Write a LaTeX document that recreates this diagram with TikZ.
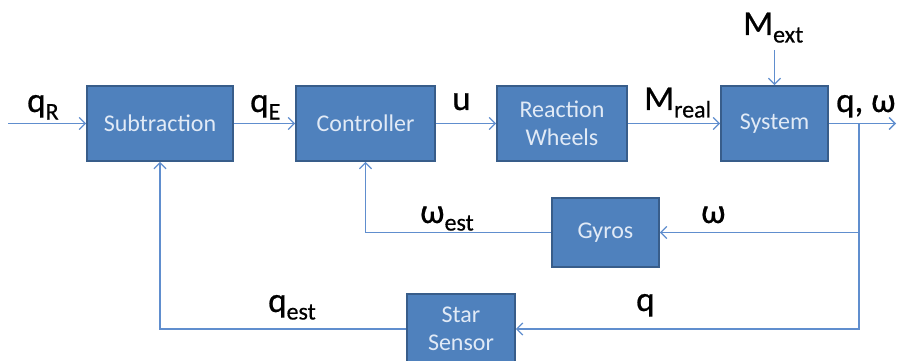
\documentclass[tikz,border=0pt]{standalone}
\usepackage{fontspec}
\setmainfont{Carlito}
\newfontfamily\labfont{Carlito}[FakeBold=0.6]
\usetikzlibrary{arrows.meta}
\definecolor{boxfill}{RGB}{79,129,189}
\definecolor{boxedge}{RGB}{56,93,138}
\definecolor{boxtext}{RGB}{225,234,246}
\definecolor{wire}{RGB}{96,142,206}
\newcommand{\lbl}[2]{{\fontsize{35}{35}\selectfont #1}{\fontsize{24}{24}\selectfont\raisebox{-7.5pt}{#2}}}
\newcommand{\biglbl}[1]{{\fontsize{35}{35}\selectfont #1}}
\tikzset{
  blockbox/.style={draw=boxedge, fill=boxfill, line width=1.8pt, text=boxtext,
    font=\fontsize{24}{28}\selectfont, align=center, inner sep=0pt, minimum height=75pt},
  wirearrow/.style={draw=wire, line width=1.3pt, -{Straight Barb[length=6pt,width=12pt,line width=1.3pt]}},
  lab/.style={anchor=base west, inner sep=0pt, text=black, font=\labfont}
}
\begin{document}
\begin{tikzpicture}[x=1pt,y=-1pt]
\useasboundingbox (0,0) rectangle (897,361);
\clip (0,0) rectangle (897,361);
\node[blockbox, minimum width=146pt] (sub) at (160,123.5) {Subtraction};
\node[blockbox, minimum width=139pt] (ctrl) at (365.5,123.5) {Controller};
\node[blockbox, minimum width=130pt] (rw) at (562,123.5) {Reaction\\Wheels};
\node[blockbox, minimum width=107pt] (sys) at (774.5,123.5) {System};
\node[blockbox, minimum width=107pt, minimum height=69pt] (gyros) at (605.5,232.5) {Gyros};
\node[blockbox, minimum width=108pt, minimum height=70pt] (star) at (461,329) {Star\\Sensor};
\coordinate (in) at (8,123.5);
\coordinate (out) at (896,123.5);
\coordinate (br) at (859,123.5);
\coordinate (mext) at (774.5,50);
\draw[wirearrow] (in) -- (sub.west);
\draw[wirearrow] (sub.east) -- (ctrl.west);
\draw[wirearrow] (ctrl.east) -- (rw.west);
\draw[wirearrow] (rw.east) -- (sys.west);
\draw[wirearrow] (sys.east) -- (out);
\draw[wirearrow] (mext) -- (sys.north);
\draw[wirearrow] (br) |- (gyros.east);
\draw[wirearrow] (br) |- (star.east);
\draw[wirearrow] (gyros.west) -| (ctrl.south);
\draw[wirearrow] (star.west) -| (sub.south);
\node[lab] (lqr) at (27,112) {\lbl{q}{R}};
\node[lab] (lqe) at (250,112) {\lbl{q}{E}};
\node[lab] (lu) at (452,110) {\biglbl{u}};
\node[lab] (lmr) at (644,110) {\lbl{M}{real}};
\node[lab] (lme) at (743,35) {\lbl{M}{ext}};
\node[lab] (lqw) at (836,112) {\biglbl{q, ω}};
\node[lab] (lwe) at (420,223) {\lbl{ω}{est}};
\node[lab] (lw) at (701,223) {\biglbl{ω}};
\node[lab] (lqest) at (268,312) {\lbl{q}{est}};
\node[lab] (lq) at (636,311) {\biglbl{q}};
\end{tikzpicture}
\end{document}
